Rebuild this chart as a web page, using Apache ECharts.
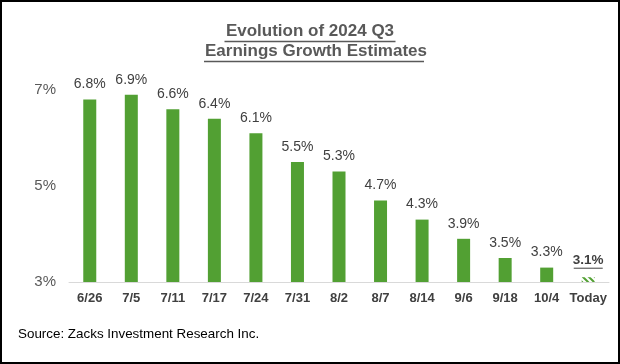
<!DOCTYPE html>
<html>
<head>
<meta charset="utf-8">
<script src="https://cdn.jsdelivr.net/npm/echarts@6/dist/echarts.min.js"></script>
<style>
html,body{margin:0;padding:0;background:#fff;}
#frame{position:absolute;left:0;top:0;width:616px;height:360px;border:2px solid #000;background:#fff;}
#chart{position:absolute;left:0;top:0;width:620px;height:364px;}
</style>
</head>
<body>
<div id="frame"></div>
<div id="chart"></div>
<script>
const categories = ['6/26','7/5','7/11','7/17','7/24','7/31','8/2','8/7','8/14','9/6','9/18','10/4','Today'];
const values = [6.8, 6.9, 6.6, 6.4, 6.1, 5.5, 5.3, 4.7, 4.3, 3.9, 3.5, 3.3, 3.1];
const yTicks = [3, 5, 7];

const GREEN = '#52a033';
// hatch pattern for "Today"
const pc = document.createElement('canvas');
pc.width = 6; pc.height = 6;
const pctx = pc.getContext('2d');
pctx.fillStyle = '#fff'; pctx.fillRect(0,0,6,6);
pctx.strokeStyle = GREEN; pctx.lineWidth = 2;
pctx.beginPath();
pctx.moveTo(0,0); pctx.lineTo(6,6);
pctx.moveTo(-3,3); pctx.lineTo(3,9);
pctx.moveTo(3,-3); pctx.lineTo(9,3);
pctx.stroke();

const lastIdx = values.length - 1;
const data = values.map((v, i) => {
  if (i === lastIdx) {
    return {
      value: v,
      itemStyle: { color: { image: pc, repeat: 'repeat' } },
      label: {
        formatter: '{b|{c}%}\n{u|}',
        rich: {
          b: { fontWeight: 'bold', fontSize: 13.5, color: '#404040', fontFamily: 'Liberation Sans, Arial', lineHeight: 14 },
          u: { width: 29, height: 1, backgroundColor: '#404040', lineHeight: 2 }
        }
      }
    };
  }
  return v;
});

const chart = echarts.init(document.getElementById('chart'));
chart.setOption({
  animation: false,
  backgroundColor: 'transparent',
  title: {
    left: 'center',
    top: 18,
    text: '{t|Evolution of 2024 Q3}\n{u1|}\n{s|}{t|Earnings Growth Estimates}\n{s2|}{u2|}',
    textStyle: {
      rich: {
        t: { fontFamily: 'Liberation Sans, Arial', fontWeight: 'bold', fontSize: 17, color: '#595959', lineHeight: 17 },
        s: { width: 12, height: 1, lineHeight: 17 },
        s2: { width: 8, height: 1, lineHeight: 3 },
        u1: { width: 171, height: 1.5, backgroundColor: '#595959', lineHeight: 3 },
        u2: { width: 220, height: 1.5, backgroundColor: '#595959', lineHeight: 3 }
      }
    }
  },
  graphic: [{
    type: 'text',
    left: 18,
    top: 328,
    style: { text: 'Source: Zacks Investment Research Inc.', fontFamily: 'Liberation Sans, Arial', fontSize: 13.4, fill: '#000' }
  }],
  grid: { left: 69, right: 11, top: 90, bottom: 82 },
  xAxis: {
    type: 'category',
    data: categories,
    axisLine: { lineStyle: { color: '#d9d9d9', width: 1 } },
    axisTick: { show: false },
    axisLabel: { fontFamily: 'Liberation Sans, Arial', fontWeight: 'bold', fontSize: 13, color: '#404040', margin: 10, interval: 0 }
  },
  yAxis: {
    type: 'value',
    min: yTicks[0],
    max: yTicks[yTicks.length - 1],
    interval: 2,
    splitLine: { show: false },
    axisLine: { show: false },
    axisTick: { show: false },
    axisLabel: { fontFamily: 'Liberation Sans, Arial', fontSize: 15, color: '#595959', margin: 13, formatter: v => v + '%' }
  },
  series: [{
    type: 'bar',
    data: data,
    barWidth: 13,
    itemStyle: { color: GREEN },
    label: {
      show: true,
      position: 'top',
      distance: 8,
      formatter: '{c}%',
      fontFamily: 'Liberation Sans, Arial',
      fontSize: 14,
      color: '#404040'
    }
  }]
});
</script>
</body>
</html>
